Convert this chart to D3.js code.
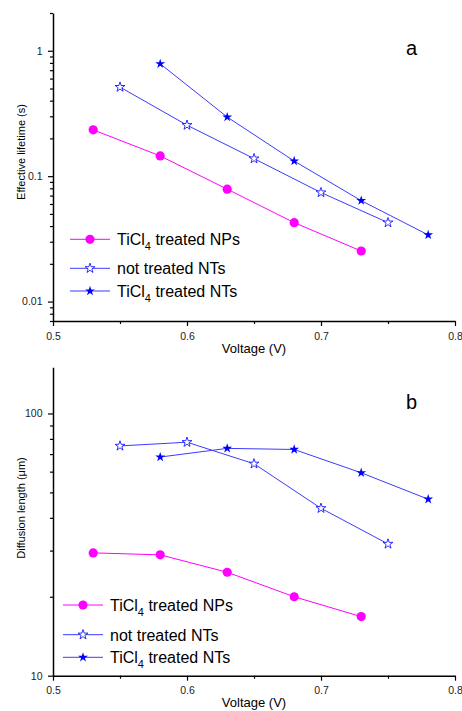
<!DOCTYPE html>
<html>
<head>
<meta charset="utf-8">
<script src="https://cdn.jsdelivr.net/npm/d3@7"></script>
<style>
  html, body { margin: 0; padding: 0; background: #fff; }
  svg { display: block; font-family: 'Liberation Sans', Arial, sans-serif; }
</style>
</head>
<body>
<div id="chart"></div>
<script>
// voltages for each series (V)
const vNPs = [0.53, 0.58, 0.63, 0.68, 0.73];
const vNotTreated = [0.55, 0.60, 0.65, 0.70, 0.75];
const vTreatedNTs = [0.58, 0.63, 0.68, 0.73, 0.78];

// panel a: effective lifetime (s)
const lifeNPs = [0.234, 0.145, 0.0788, 0.0426, 0.0253];
const lifeNotTreated = [0.513, 0.255, 0.138, 0.074, 0.0426];
const lifeTreatedNTs = [0.787, 0.296, 0.132, 0.0638, 0.034];

// panel b: diffusion length (um)
const diffNPs = [29.4, 28.9, 24.8, 20.0, 16.8];
const diffNotTreated = [75.2, 77.7, 64.3, 43.5, 31.8];
const diffTreatedNTs = [68.2, 73.6, 72.9, 59.4, 47.1];

const xTicks = [0.5, 0.6, 0.7, 0.8];
const xMinor = [0.55, 0.65, 0.75];
const lifeTicks = [0.01, 0.1, 1];
const diffTicks = [10, 100];

const W = 462, H = 711;
const svg = d3.select('#chart').append('svg')
  .attr('width', W).attr('height', H);

const x = d3.scaleLinear().domain([0.5, 0.8]).range([53, 455]);

const MAGENTA = '#ff00ff';
const BLUE = '#0000ff';
const LINE_BLUE = '#3b3bff';

const series = [
  { name: ['TiCl', '4', ' treated NPs'], marker: 'circle', color: MAGENTA, line: MAGENTA },
  { name: ['not treated NTs'], marker: 'open', color: BLUE, line: LINE_BLUE },
  { name: ['TiCl', '4', ' treated NTs'], marker: 'star', color: BLUE, line: LINE_BLUE }
];

const starPath = d3.symbol().type(d3.symbolStar).size(30)();

function drawMarker(sel, kind, color) {
  if (kind === 'circle') {
    sel.append('circle').attr('r', 4.6).attr('fill', color);
  } else if (kind === 'open') {
    sel.append('path').attr('d', starPath)
      .attr('fill', '#fff').attr('stroke', color).attr('stroke-width', 0.8);
  } else {
    sel.append('path').attr('d', starPath).attr('fill', color);
  }
}

function minorLog(domain) {
  const out = [];
  for (let e = -3; e <= 3; e++) {
    for (let m = 2; m <= 9; m++) {
      const v = m * Math.pow(10, e);
      if (v >= domain[0] && v <= domain[1]) out.push(v);
    }
  }
  return out;
}

function panel(cfg) {
  const y = d3.scaleLog().domain(cfg.domain).range(cfg.range);
  const g = svg.append('g');
  const xAxisY = cfg.range[0];

  // axes
  const xa = g.append('g').attr('transform', `translate(0,${xAxisY})`)
    .call(d3.axisBottom(x).tickValues(xTicks).tickSize(5).tickSizeOuter(0)
      .tickFormat(d3.format('.1f')));
  g.append('g').attr('transform', `translate(0,${xAxisY})`)
    .call(d3.axisBottom(x).tickValues(xMinor).tickSize(3).tickFormat(''))
    .select('.domain').remove();

  const ya = g.append('g').attr('transform', `translate(${x.range()[0]},0)`)
    .call(d3.axisLeft(y).tickValues(cfg.ticks).tickSize(5).tickSizeOuter(0)
      .tickFormat(d => String(d)));
  g.append('g').attr('transform', `translate(${x.range()[0]},0)`)
    .call(d3.axisLeft(y).tickValues(minorLog(cfg.domain)).tickSize(3).tickFormat(''))
    .select('.domain').remove();

  g.selectAll('.domain').attr('stroke', '#000').attr('stroke-width', 1.5);
  g.selectAll('.tick line').attr('stroke', '#000').attr('stroke-width', 1.2);
  g.selectAll('.tick text').attr('fill', '#222').attr('font-size', 10.5)
    .attr('font-family', "'Liberation Sans', Arial, sans-serif");
  xa.selectAll('.tick text').attr('dy', '1.0em');
  ya.selectAll('.tick text').attr('x', -10.5);

  // labels
  g.append('text')
    .attr('x', 254).attr('y', xAxisY + 31.5)
    .attr('text-anchor', 'middle').attr('font-size', 13)
    .text('Voltage (V)');
  g.append('text')
    .attr('transform', `translate(25,${cfg.ylabelY}) rotate(-90)`)
    .attr('text-anchor', 'middle').attr('font-size', 11)
    .text(cfg.ylabel);
  g.append('text')
    .attr('x', 406).attr('y', cfg.letterY)
    .attr('font-size', 20).text(cfg.letter);

  // series
  const line = d3.line().x(d => x(d[0])).y(d => y(d[1]));
  cfg.data.forEach((vals, i) => {
    const s = series[i];
    const pts = vals[0].map((v, j) => [v, vals[1][j]]);
    g.append('path').datum(pts)
      .attr('d', line).attr('fill', 'none')
      .attr('stroke', s.line).attr('stroke-width', 1);
    g.selectAll(null).data(pts).join('g')
      .attr('transform', d => `translate(${x(d[0])},${y(d[1])})`)
      .each(function() { drawMarker(d3.select(this), s.marker, s.color); });
  });

  // legend
  series.forEach((s, i) => {
    const ly = cfg.legend.y[i];
    const lg = g.append('g').attr('transform', `translate(0,${ly})`);
    lg.append('line')
      .attr('x1', cfg.legend.x0).attr('x2', cfg.legend.x0 + 40)
      .attr('stroke', s.line).attr('stroke-width', 1);
    const m = lg.append('g').attr('transform', `translate(${cfg.legend.x0 + 20},0)`);
    drawMarker(m, s.marker, s.color);
    const t = lg.append('text').attr('x', cfg.legend.tx).attr('y', 6)
      .attr('font-size', 16).attr('fill', '#000');
    t.append('tspan').text(s.name[0]);
    if (s.name.length > 1) {
      t.append('tspan').attr('font-size', 11).attr('dy', 5).text(s.name[1]);
      t.append('tspan').attr('dy', -5).text(s.name[2]);
    }
  });
}

panel({
  domain: [0.007, 2], range: [321, 13], ticks: lifeTicks,
  ylabel: 'Effective lifetime (s)', ylabelY: 152,
  letter: 'a', letterY: 55,
  data: [[vNPs, lifeNPs], [vNotTreated, lifeNotTreated], [vTreatedNTs, lifeTreatedNTs]],
  legend: { x0: 70, tx: 117, y: [239.3, 268.3, 291] }
});

panel({
  domain: [10, 150], range: [675.7, 367.3], ticks: diffTicks,
  ylabel: 'Diffusion length (\u03bcm)', ylabelY: 508,
  letter: 'b', letterY: 409.3,
  data: [[vNPs, diffNPs], [vNotTreated, diffNotTreated], [vTreatedNTs, diffTreatedNTs]],
  legend: { x0: 63, tx: 110, y: [605, 634.7, 657.3] }
});
</script>
</body>
</html>
